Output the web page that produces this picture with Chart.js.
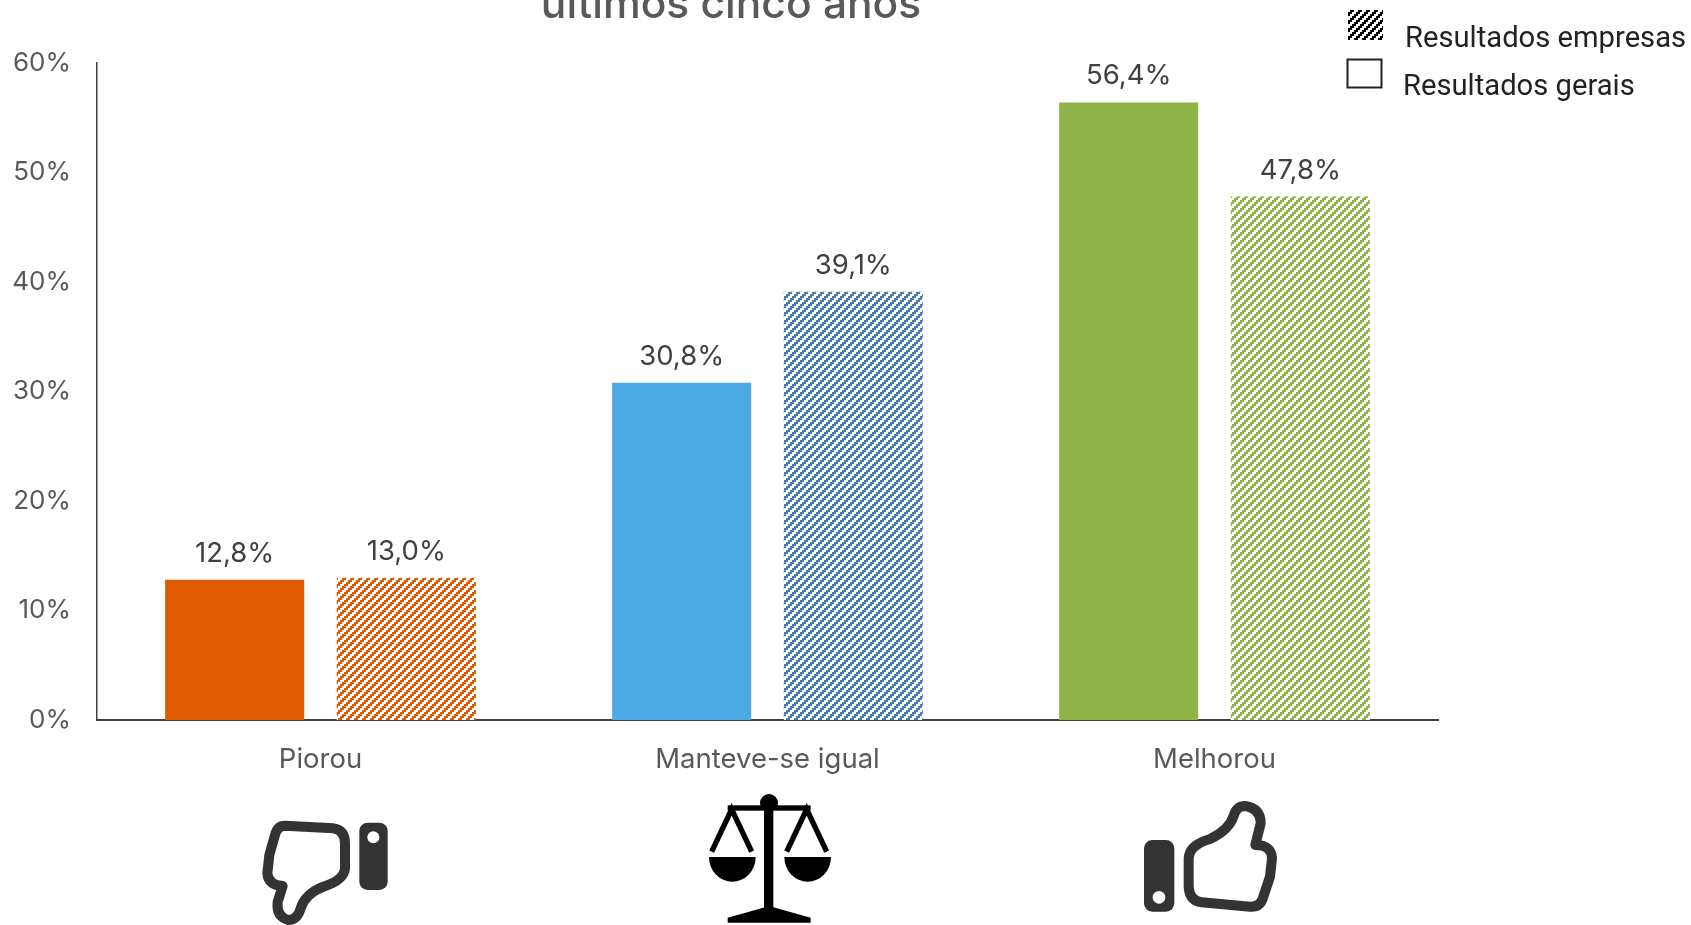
<!DOCTYPE html>
<html><head><meta charset="utf-8">
<style>html,body{margin:0;padding:0;background:#fff;overflow:hidden}#w{position:absolute;left:0;top:0;width:1691px;height:925px}</style>
<script src="https://cdn.jsdelivr.net/npm/chart.js@4"></script></head>
<body><div id="w"><canvas id="c" width="1691" height="925"></canvas></div>
<script>
const categories = ['Piorou', 'Manteve-se igual', 'Melhorou'];
const seriesGerais = [12.8, 30.8, 56.4];
const seriesEmpresas = [13.0, 39.1, 47.8];
const solidColors = ['#e05a00', '#4da9e4', '#8fb548'];
const hatchColors = ['#e05a00', '#4a7ebb', '#8fb548'];
const yTicks = [0, 10, 20, 30, 40, 50, 60];
const titleText = 'últimos cinco anos';
const legendLabels = ['Resultados empresas', 'Resultados gerais'];
const FONT = 'Inter';

function hatch(color) {
  const t = document.createElement('canvas');
  t.width = t.height = 8;
  const g = t.getContext('2d');
  g.fillStyle = '#fff'; g.fillRect(0, 0, 8, 8);
  g.fillStyle = color;
  for (let i = 0; i < 4; i++) for (let j = 0; j < 4; j++) if ((i + j) % 4 < 2) g.fillRect(i * 2, j * 2, 2, 2);
  return g.createPattern(t, 'repeat');
}
function fmt(v) { return v.toFixed(1).replace('.', ',') + '%'; }

const overlay = {
  id: 'overlay',
  afterDatasetsDraw(ch) {
    const c = ch.ctx;
    c.save();
    c.textAlign = 'center'; c.textBaseline = 'alphabetic';
    // data labels
    c.font = '27.5px ' + FONT; c.fillStyle = '#404040';
    ch.data.datasets.forEach((d, i) => ch.getDatasetMeta(i).data.forEach((b, j) => {
      c.fillText(fmt(d.data[j]), b.x, b.y - 18);
    }));
    // title fragment
    c.font = '500 42.5px ' + FONT; c.fillStyle = '#595959';
    c.fillText(titleText, 731, 18);
    // legend
    c.textAlign = 'left'; c.fillStyle = '#222'; c.font = '29.2px Roboto';
    c.fillText(legendLabels[0], 1405, 47);
    c.fillText(legendLabels[1], 1403, 95);
    c.fillStyle = hatch('#000'); c.fillRect(1348, 10, 35, 30);
    c.strokeStyle = '#222'; c.lineWidth = 2; c.strokeRect(1347.5, 59.5, 34, 28);
    c.restore();
    icons(c);
  }
};
function icons(c) {
  // thumbs down
  c.save(); c.translate(240, 780); c.scale(1/3, 1/3);
  c.strokeStyle = c.fillStyle = '#333'; c.lineWidth = 30; c.lineJoin = 'round';
  c.beginPath(); c.moveTo(135,137); c.lineTo(280,145); c.quadraticCurveTo(315,150,315,190); c.lineTo(315,265);
  c.quadraticCurveTo(312,300,250,320); c.quadraticCurveTo(195,342,182,385); c.quadraticCurveTo(172,420,145,420);
  c.quadraticCurveTo(108,410,113,365); c.lineTo(128,318); c.quadraticCurveTo(85,315,82,280); c.lineTo(88,225); c.lineTo(105,165);
  c.quadraticCurveTo(112,137,135,137); c.closePath(); c.stroke();
  c.beginPath(); c.roundRect(358,128,85,202,25); c.fill();
  c.fillStyle = '#fff'; c.beginPath(); c.arc(400,172,18,0,7); c.fill();
  c.restore();
  // scale
  c.save(); c.translate(690, 780); c.scale(1/3, 1/3);
  c.fillStyle = c.strokeStyle = '#000'; c.lineWidth = 16;
  c.fillRect(222,60,28,330); c.fillRect(113,76,249,16);
  c.beginPath(); c.arc(237,69,27,0,7); c.fill();
  c.beginPath(); c.moveTo(65,215); c.lineTo(125,88); c.lineTo(185,215); c.stroke();
  c.beginPath(); c.moveTo(290,215); c.lineTo(350,88); c.lineTo(410,215); c.stroke();
  c.beginPath(); c.ellipse(127,231,70,74,0,0,Math.PI); c.fill();
  c.beginPath(); c.ellipse(353,231,70,74,0,0,Math.PI); c.fill();
  c.beginPath(); c.moveTo(113,413); c.lineTo(225,382); c.lineTo(250,382); c.lineTo(362,413); c.lineTo(362,428); c.lineTo(113,428); c.closePath(); c.fill();
  c.restore();
  // thumbs up
  c.save(); c.translate(1130, 780); c.scale(1/3, 1/3);
  c.strokeStyle = c.fillStyle = '#333'; c.lineWidth = 30; c.lineJoin = 'round';
  c.beginPath(); c.moveTo(345,78); c.quadraticCurveTo(392,85,392,130); c.lineTo(376,195); c.quadraticCurveTo(425,195,426,235);
  c.lineTo(420,290); c.lineTo(400,350); c.quadraticCurveTo(392,382,360,380); c.lineTo(215,367); c.quadraticCurveTo(178,362,176,320);
  c.lineTo(176,235); c.quadraticCurveTo(178,195,240,177); c.quadraticCurveTo(298,150,312,105); c.quadraticCurveTo(320,78,345,78); c.closePath(); c.stroke();
  c.beginPath(); c.roundRect(42,180,91,215,25); c.fill();
  c.fillStyle = '#fff'; c.beginPath(); c.arc(87,352,19,0,7); c.fill();
  c.restore();
}

new Chart(document.getElementById('c'), {
  type: 'bar',
  data: {
    labels: categories,
    datasets: [
      { label: legendLabels[1], data: seriesGerais, backgroundColor: solidColors },
      { label: legendLabels[0], data: seriesEmpresas, backgroundColor: hatchColors.map(hatch) }
    ]
  },
  options: {
    responsive: false, animation: false,
    layout: { padding: { top: 63, right: 253, left: 0, bottom: 0 } },
    plugins: { legend: { display: false }, title: { display: false }, tooltip: { enabled: false } },
    datasets: { bar: { barPercentage: 0.81, categoryPercentage: 0.768 } },
    scales: {
      x: {
        grid: { display: false, drawTicks: false },
        border: { color: '#404040', width: 2 },
        ticks: { color: '#595959', font: { family: FONT, size: 27.5 }, padding: 23, maxRotation: 0 },
        afterFit(s) { s.height = 205; }
      },
      y: {
        min: 0, max: 60,
        afterBuildTicks(s) { s.ticks = yTicks.map(v => ({ value: v })); },
        grid: { display: false, drawTicks: false },
        border: { color: '#404040', width: 1.5 },
        ticks: { color: '#595959', font: { family: FONT, size: 26 }, padding: 26, callback: v => v + '%' },
        afterFit(s) { s.width = 97; }
      }
    }
  },
  plugins: [overlay]
});
</script></body></html>
